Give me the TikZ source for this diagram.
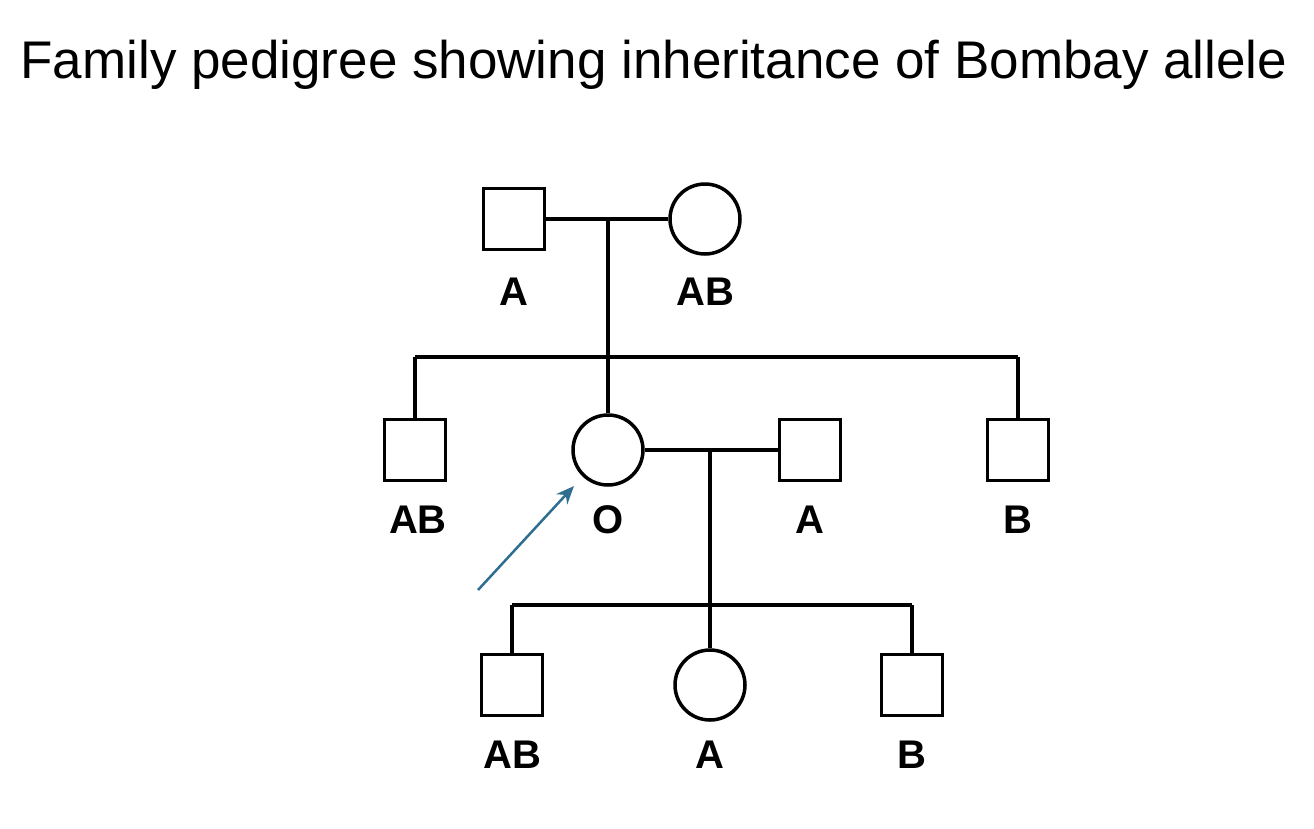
\documentclass[tikz,border=0pt]{standalone}
\usepackage{fontspec}
\setmainfont{Liberation Sans}
\usetikzlibrary{arrows.meta}
\definecolor{arr}{RGB}{47,110,145}
\begin{document}
\begin{tikzpicture}[x=1pt,y=-1pt,
  sq/.style={draw,line width=3.5pt,minimum size=61pt,inner sep=0pt},
  ci/.style={draw,circle,line width=3.5pt,minimum size=70pt,inner sep=0pt},
  lab/.style={font=\fontsize{40}{42}\selectfont\bfseries},
  ln/.style={line width=3.5pt}]
\useasboundingbox (0,0) rectangle (1314,828);
\node[font=\fontsize{53}{56}\selectfont] (title) at (654,65) {Family pedigree showing inheritance of Bombay allele};
% gen 1
\node[sq] (f1) at (514,219) {};
\node[ci] (m1) at (705,219) {};
\node[lab] (lf1) at (514,292) {A};
\node[lab] (lm1) at (705,292) {AB};
\coordinate (c1) at (608,219);
\coordinate (s1) at (608,357);
\coordinate (s1l) at (415,357);
\coordinate (s1r) at (1018,357);
\draw[ln] (f1) -- (m1);
\draw[ln] (c1) -- (s1);
\draw[ln] (s1l) -- (s1r);
% gen 2
\node[sq] (g1) at (415,450) {};
\node[ci] (g2) at (608,450) {};
\node[sq] (g3) at (810,450) {};
\node[sq] (g4) at (1018,450) {};
\node[lab] (lg1) at (418,520) {AB};
\node[lab] (lg2) at (608,520) {O};
\node[lab] (lg3) at (810,520) {A};
\node[lab] (lg4) at (1018,520) {B};
\draw[ln] (s1l) -- (g1.north);
\draw[ln] (s1) -- (g2.north);
\draw[ln] (s1r) -- (g4.north);
\draw[ln] (g2) -- (g3);
\coordinate (c2) at (710,450);
\coordinate (s2) at (710,605);
\coordinate (s2l) at (512,605);
\coordinate (s2r) at (912,605);
\draw[ln] (c2) -- (s2);
\draw[ln] (s2l) -- (s2r);
% gen 3
\node[sq] (h1) at (512,685) {};
\node[ci] (h2) at (710,685) {};
\node[sq] (h3) at (912,685) {};
\node[lab] (lh1) at (512,755) {AB};
\node[lab] (lh2) at (710,755) {A};
\node[lab] (lh3) at (912,755) {B};
\draw[ln] (s2l) -- (h1.north);
\draw[ln] (s2) -- (h2.north);
\draw[ln] (s2r) -- (h3.north);
% arrow
\coordinate (a0) at (478,590);
\coordinate (a1) at (574,486);
\draw[arr,line width=2.5pt,-{Stealth[length=18pt,width=15pt]}] (a0) -- (a1);
\end{tikzpicture}
\end{document}
